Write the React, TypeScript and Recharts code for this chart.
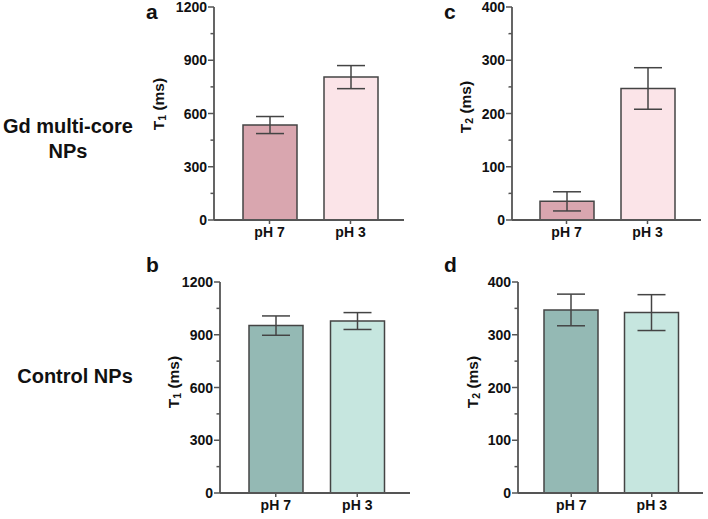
import React from "react";
import { BarChart, Bar, XAxis, YAxis, Cell, ErrorBar } from "recharts";

const categories = ["pH 7", "pH 3"];

// Gd multi-core NPs
const t1Gd = [535, 805];
const t1GdErr = [48, 65];
const t2Gd = [35, 247];
const t2GdErr = [18, 39];

// Control NPs
const t1Ctrl = [952, 978];
const t1CtrlErr = [55, 48];
const t2Ctrl = [347, 342];
const t2CtrlErr = [30, 34];

const t1Ticks = [0, 150, 300, 450, 600, 750, 900, 1050, 1200];
const t2Ticks = [0, 50, 100, 150, 200, 250, 300, 350, 400];

const pinkFills = ["#d9a6af", "#fbe4e8"];
const tealFills = ["#94b9b4", "#c6e6df"];

const AXIS = "#555";
const EDGE = "#444";
const FONT = "'Liberation Sans', Arial, sans-serif";

type PanelProps = {
  left: number;
  top: number;
  width: number;
  height: number;
  margin: { top: number; right: number; bottom: number; left: number };
  pad: { left: number; right: number };
  values: number[];
  errors: number[];
  fills: string[];
  ticks: number[];
  major: number;
  sub: string;
  titleX: number;
  titleY: number;
};

function YTick(props: any) {
  const { x, y, payload, major } = props;
  const isMajor = payload.value % major === 0;
  return (
    <g>
      <line x1={x} x2={x - (isMajor ? 6 : 3.5)} y1={y} y2={y} stroke={AXIS} strokeWidth={1.5} />
      {isMajor && (
        <text x={x - 7} y={y} dy={5} textAnchor="end" fontFamily={FONT} fontWeight="bold" fontSize={14} fill="#111">
          {payload.value}
        </text>
      )}
    </g>
  );
}

function XTick(props: any) {
  const { x, y, payload } = props;
  return (
    <g>
      <line x1={x} x2={x} y1={y} y2={y + 4} stroke={AXIS} strokeWidth={1.5} />
      <text x={x} y={y + 17} textAnchor="middle" fontFamily={FONT} fontWeight="bold" fontSize={14} fill="#111">
        {payload.value}
      </text>
    </g>
  );
}

function Panel(p: PanelProps) {
  const data = categories.map((name, i) => ({ name, value: p.values[i], err: p.errors[i] }));
  const max = p.ticks[p.ticks.length - 1];
  return (
    <div style={{ position: "absolute", left: p.left, top: p.top }}>
      <BarChart width={p.width} height={p.height} data={data} margin={p.margin} barCategoryGap={0}>
        <XAxis
          dataKey="name"
          axisLine={{ stroke: AXIS, strokeWidth: 1.8 }}
          tickLine={false}
          tickSize={0}
          tickMargin={0}
          height={24}
          padding={p.pad}
          interval={0}
          tick={(t: any) => <XTick {...t} />}
        />
        <YAxis
          type="number"
          domain={[0, max]}
          ticks={p.ticks}
          interval={0}
          width={40}
          axisLine={{ stroke: AXIS, strokeWidth: 1.8 }}
          tickLine={false}
          tickSize={0}
          tickMargin={0}
          tick={(t: any) => <YTick {...t} major={p.major} />}
          label={{
            content: () => {
              // title centre, in this chart's own coordinates
              const cx = p.titleX - p.left;
              const cy = p.titleY - p.top;
              return (
                <text
                  x={cx}
                  y={cy}
                  transform={`rotate(-90 ${cx} ${cy})`}
                  textAnchor="middle"
                  dominantBaseline="central"
                  fontFamily={FONT}
                  fontWeight="bold"
                  fontSize={15.5}
                  fill="#111"
                >
                  <tspan>T</tspan>
                  <tspan fontSize={10.5} dy={4}>{p.sub}</tspan>
                  <tspan dy={-4}> (ms)</tspan>
                </text>
              );
            },
          }}
        />
        <Bar dataKey="value" barSize={54} stroke={EDGE} strokeWidth={1.5} isAnimationActive={false}>
          {data.map((d, i) => (
            <Cell key={d.name} fill={p.fills[i]} />
          ))}
          <ErrorBar dataKey="err" direction="y" width={14} stroke={EDGE} strokeWidth={1.5} isAnimationActive={false} />
        </Bar>
      </BarChart>
    </div>
  );
}

const letterStyle = { fontFamily: FONT, fontWeight: "bold" as const, fontSize: 21, fill: "#111" };
const rowStyle = { fontFamily: FONT, fontWeight: "bold" as const, fontSize: 20, fill: "#111" };

export default function App() {
  return (
    <div style={{ position: "absolute", left: 0, top: 0, width: 708, height: 519, background: "#fff", overflow: "hidden" }}>
      <Panel
        left={140} top={0} width={270} height={250}
        margin={{ top: 7, right: 6, bottom: 6, left: 34 }}
        pad={{ left: 15, right: 13 }}
        values={t1Gd} errors={t1GdErr} fills={pinkFills}
        ticks={t1Ticks} major={300} sub="1" titleX={158} titleY={104}
      />
      <Panel
        left={440} top={0} width={268} height={250}
        margin={{ top: 7, right: 7, bottom: 6, left: 32 }}
        pad={{ left: 14, right: 13 }}
        values={t2Gd} errors={t2GdErr} fills={pinkFills}
        ticks={t2Ticks} major={100} sub="2" titleX={465} titleY={107}
      />
      <Panel
        left={140} top={250} width={275} height={269}
        margin={{ top: 32, right: 5, bottom: 2, left: 40 }}
        pad={{ left: 15, right: 12 }}
        values={t1Ctrl} errors={t1CtrlErr} fills={tealFills}
        ticks={t1Ticks} major={300} sub="1" titleX={173} titleY={382}
      />
      <Panel
        left={440} top={250} width={268} height={269}
        margin={{ top: 32, right: 5, bottom: 2, left: 38 }}
        pad={{ left: 13, right: 11 }}
        values={t2Ctrl} errors={t2CtrlErr} fills={tealFills}
        ticks={t2Ticks} major={100} sub="2" titleX={472} titleY={382}
      />
      <svg width={708} height={519} style={{ position: "absolute", left: 0, top: 0, pointerEvents: "none" }}>
        <text x={146} y={19} {...letterStyle}>a</text>
        <text x={444} y={19} {...letterStyle}>c</text>
        <text x={146} y={272} {...letterStyle}>b</text>
        <text x={444} y={272} {...letterStyle}>d</text>
        <text x={68} y={133} textAnchor="middle" {...rowStyle}>Gd multi-core</text>
        <text x={68} y={158} textAnchor="middle" {...rowStyle}>NPs</text>
        <text x={75} y={383} textAnchor="middle" {...rowStyle}>Control NPs</text>
      </svg>
    </div>
  );
}
